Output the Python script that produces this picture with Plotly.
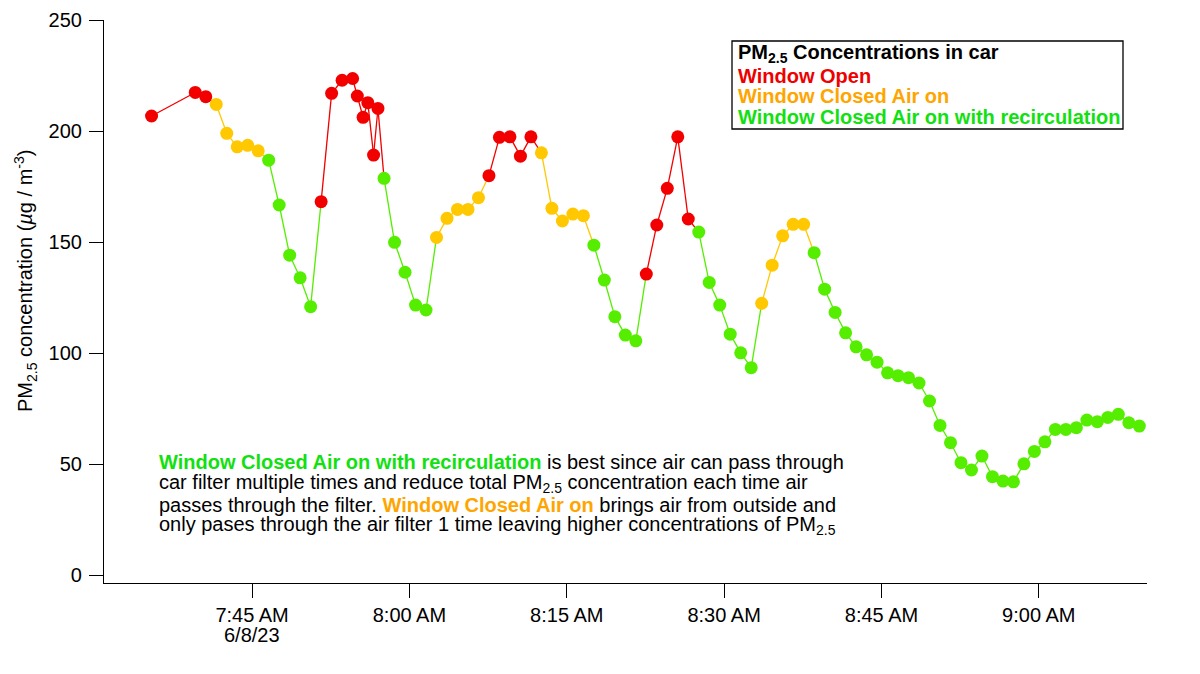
import plotly.graph_objects as go

# ---------------- data ----------------
date_str = "2023-06-08"
times = [
    "07:35:25", "07:39:35", "07:40:35", "07:41:35", "07:42:35", "07:43:35", "07:44:35",
    "07:45:35", "07:46:35", "07:47:35", "07:48:35", "07:49:35", "07:50:35", "07:51:35",
    "07:52:35", "07:53:35", "07:54:35", "07:55:02", "07:55:35", "07:56:02", "07:56:35",
    "07:57:00", "07:57:35", "07:58:35", "07:59:35", "08:00:35", "08:01:35", "08:02:35",
    "08:03:35", "08:04:35", "08:05:35", "08:06:35", "08:07:35", "08:08:35", "08:09:35",
    "08:10:35", "08:11:35", "08:12:35", "08:13:35", "08:14:35", "08:15:35", "08:16:35",
    "08:17:35", "08:18:35", "08:19:35", "08:20:35", "08:21:35", "08:22:35", "08:23:35",
    "08:24:35", "08:25:35", "08:26:35", "08:27:35", "08:28:35", "08:29:35", "08:30:35",
    "08:31:35", "08:32:35", "08:33:35", "08:34:35", "08:35:35", "08:36:35", "08:37:35",
    "08:38:35", "08:39:35", "08:40:35", "08:41:35", "08:42:35", "08:43:35", "08:44:35",
    "08:45:35", "08:46:35", "08:47:35", "08:48:35", "08:49:35", "08:50:35", "08:51:35",
    "08:52:35", "08:53:35", "08:54:35", "08:55:35", "08:56:35", "08:57:35", "08:58:35",
    "08:59:35", "09:00:35", "09:01:35", "09:02:35", "09:03:35", "09:04:35", "09:05:35",
    "09:06:35", "09:07:35", "09:08:35", "09:09:35",
]
pm25 = [
    206.8, 217.4, 215.5, 212.0, 199.0, 192.9, 193.6,
    191.1, 186.9, 166.7, 144.1, 133.9, 120.9, 168.2,
    217.0, 222.9, 223.7, 215.8, 206.2, 212.8, 189.2,
    210.2, 178.7, 149.9, 136.4, 121.6, 119.4, 152.1,
    160.7, 164.7, 164.7, 170.0, 179.9, 197.2, 197.4,
    188.7, 197.4, 190.2, 165.2, 159.5, 162.6, 161.9,
    148.6, 132.9, 116.4, 108.1, 105.5, 135.6, 157.7,
    174.2, 197.4, 160.4, 154.5, 131.8, 121.6, 108.5,
    100.1, 93.4, 122.4, 139.6, 152.8, 158.0, 158.0,
    145.2, 128.8, 118.3, 109.1, 102.8, 99.2, 95.9,
    91.1, 89.8, 88.9, 86.5, 78.4, 67.4, 59.6,
    50.6, 47.3, 53.6, 44.3, 42.3, 42.0, 50.1,
    55.7, 60.0, 65.6, 65.6, 66.4, 69.8, 69.1,
    71.0, 72.4, 68.6, 67.1,
]
# W = Window Open, A = Window Closed Air on, R = Window Closed Air on with recirculation
mode = [
    "W", "W", "W", "A", "A", "A", "A",
    "A", "R", "R", "R", "R", "R", "W",
    "W", "W", "W", "W", "W", "W", "W",
    "W", "R", "R", "R", "R", "R", "A",
    "A", "A", "A", "A", "W", "W", "W",
    "W", "W", "A", "A", "A", "A", "A",
    "R", "R", "R", "R", "R", "W", "W",
    "W", "W", "W", "R", "R", "R", "R",
    "R", "R", "A", "A", "A", "A", "A",
    "R", "R", "R", "R", "R", "R", "R",
    "R", "R", "R", "R", "R", "R", "R",
    "R", "R", "R", "R", "R", "R", "R",
    "R", "R", "R", "R", "R", "R", "R",
    "R", "R", "R", "R",
]
tick_times = ["07:45:00", "08:00:00", "08:15:00", "08:30:00", "08:45:00", "09:00:00"]
tick_labels = ["7:45 AM", "8:00 AM", "8:15 AM", "8:30 AM", "8:45 AM", "9:00 AM"]
date_label = "6/8/23"
y_ticks = [0, 50, 100, 150, 200, 250]

# ---------------- styles ----------------
marker_colors = {"W": "#F20000", "A": "#FFC800", "R": "#55EE00"}
text_colors = {"W": "#EE0000", "A": "#FFA500", "R": "#11E011"}
FONT = "Liberation Sans, Arial, Helvetica, sans-serif"
FS = 20

x = [f"{date_str} {t}" for t in times]

fig = go.Figure()

# line segments colored by starting point
for key in ["W", "A", "R"]:
    xs, ys = [], []
    for i in range(len(x) - 1):
        if mode[i] == key:
            xs += [x[i], x[i + 1], None]
            ys += [pm25[i], pm25[i + 1], None]
    fig.add_trace(go.Scatter(x=xs, y=ys, mode="lines",
                             line=dict(color=marker_colors[key], width=1.3),
                             hoverinfo="skip", showlegend=False))

fig.add_trace(go.Scatter(x=x, y=pm25, mode="markers",
                         marker=dict(size=13, color=[marker_colors[m] for m in mode],
                                     line=dict(width=0)),
                         showlegend=False))

# plot-area geometry in page pixels; the page body has an 8px margin
OFF = 8
FIG_W, FIG_H = 1200 - 2 * OFF, 674 - 2 * OFF
L, R, T, B = 104, 1147, 20, 583
W_ = R - L
H_ = B - T

def px(xp):
    return (xp - L) / W_

def py(yp):
    return (B - yp) / H_

annotations = []

# legend box text
leg_lines = [
    ("<b>PM<sub>2.5</sub> Concentrations in car</b>", "black", 53.7),
    ("<b>Window Open</b>", text_colors["W"], 76.0),
    ("<b>Window Closed Air on</b>", text_colors["A"], 96.3),
    ("<b>Window Closed Air on with recirculation</b>", text_colors["R"], 116.7),
]
for txt, col, yy in leg_lines:
    annotations.append(dict(text=txt, xref="paper", yref="paper", x=px(736), y=py(yy),
                            xanchor="left", yanchor="middle", showarrow=False,
                            font=dict(family=FONT, size=FS, color=col)))

g = text_colors["R"]
o = text_colors["A"]
body_lines = [
    (f"<span style='color:{g}'><b>Window Closed Air on with recirculation</b></span> is best since air can pass through", 461.8),
    ("car filter multiple times and reduce total PM<sub>2.5</sub> concentration each time air", 483.0),
    (f"passes through the filter. <span style='color:{o}'><b>Window Closed Air on</b></span> brings air from outside and", 504.5),
    ("only pases through the air filter 1 time leaving higher concentrations of PM<sub>2.5</sub>", 525.5),
]
for txt, yy in body_lines:
    annotations.append(dict(text=txt, xref="paper", yref="paper", x=px(157), y=py(yy),
                            xanchor="left", yanchor="middle", showarrow=False,
                            font=dict(family=FONT, size=FS, color="black")))

# y title
annotations.append(dict(text="PM<sub>2.5</sub> concentration (<i>µ</i>g / m<sup>-3</sup>)",
                        xref="paper", yref="paper", x=px(25), y=py(281),
                        xanchor="center", yanchor="middle", textangle=-90, showarrow=False,
                        font=dict(family=FONT, size=FS, color="black")))

# date under first tick
annotations.append(dict(text=date_label, xref="x", yref="paper", x=f"{date_str} {tick_times[0]}",
                        y=py(635), xanchor="center", yanchor="middle", showarrow=False,
                        font=dict(family=FONT, size=FS, color="black")))

fig.update_layout(
    width=FIG_W, height=FIG_H,
    margin=dict(l=L - OFF, r=FIG_W - (R - OFF), t=T - OFF, b=FIG_H - (B - OFF), pad=0),
    plot_bgcolor="white", paper_bgcolor="white",
    font=dict(family=FONT, size=FS, color="black"),
    showlegend=False,
    annotations=annotations,
    shapes=[dict(type="rect", xref="paper", yref="paper",
                 x0=px(732), x1=px(1123), y0=py(129), y1=py(41),
                 line=dict(color="black", width=1.3), fillcolor="white", layer="below")],
    xaxis=dict(type="date", automargin=False,
               range=[f"{date_str} 07:30:53", f"{date_str} 09:10:19"],
               tickmode="array",
               tickvals=[f"{date_str} {t}" for t in tick_times],
               ticktext=tick_labels,
               ticks="outside", ticklen=14, tickwidth=1, tickcolor="black",
               showline=True, linecolor="black", linewidth=1.2,
               showgrid=False, zeroline=False,
               tickfont=dict(family=FONT, size=FS, color="black")),
    yaxis=dict(range=[-3.6, 250.05], automargin=False,
               tickmode="array", tickvals=y_ticks,
               ticks="outside", ticklen=14, tickwidth=1, tickcolor="black",
               ticklabelstandoff=3,
               showline=True, linecolor="black", linewidth=1.2,
               showgrid=False, zeroline=False,
               tickfont=dict(family=FONT, size=FS, color="black")),
)

fig.write_html("out.html")
